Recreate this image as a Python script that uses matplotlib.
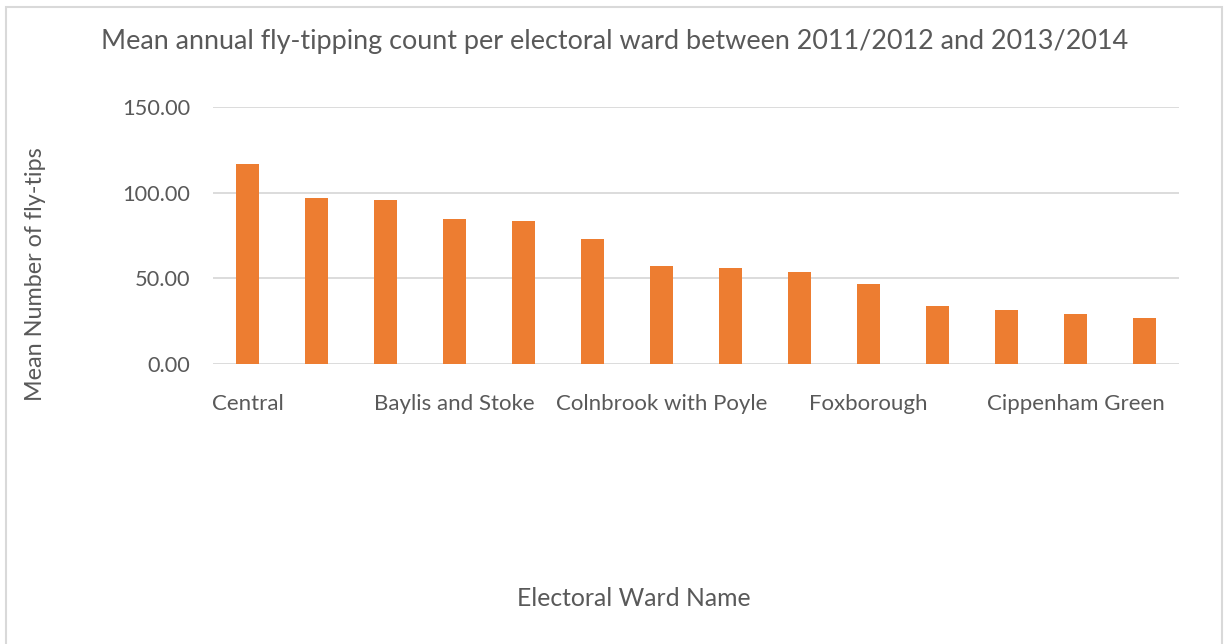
import matplotlib
matplotlib.use("Agg")
import matplotlib.pyplot as plt
from matplotlib.patches import Rectangle

# Data
wards = ["Central", "Chalvey", "Wexham Lea", "Baylis and Stoke", "Britwell",
         "Farnham", "Colnbrook with Poyle", "Kedermister", "Langley St Mary's",
         "Foxborough", "Haymill", "Upton", "Cippenham Green", "Cippenham Meadows"]
mean_flytips = [116.9, 97.0, 95.8, 84.7, 83.5, 72.9, 57.2, 56.0, 53.7,
                46.6, 33.8, 31.4, 29.1, 26.8]
shown_label_idx = [0, 3, 6, 9, 12]
yticks = [0, 50, 100, 150]

FONT = "Lato"
TXT = "#595959"

fig = plt.figure(figsize=(12.3, 6.44), dpi=100)
fig.patch.set_facecolor("white")
ax = fig.add_axes([213/1230, 280.3/644, 966/1230, 256.4/644])

x = list(range(len(wards)))
ax.bar(x, mean_flytips, width=0.32, color="#ED7D31", zorder=3)
ax.set_xlim(-0.5, len(wards) - 0.5)
ax.set_ylim(0, 150)
ax.set_yticks(yticks)
ax.set_yticklabels([f"{v:.2f}" for v in yticks], fontfamily=FONT, fontsize=15.7, color=TXT)
ax.set_xticks([x[i] for i in shown_label_idx])
ax.set_xticklabels([wards[i] for i in shown_label_idx], fontfamily=FONT, fontsize=16, color=TXT)
ax.tick_params(axis="both", length=0)
ax.tick_params(axis="y", pad=16.5)
ax.tick_params(axis="x", pad=21.5)
ax.grid(axis="y", color="#d9d9d9", linewidth=1.3, zorder=0)
for s in ax.spines.values():
    s.set_visible(False)

fig.text(615/1230, 1 - 41/644, "Mean annual fly-tipping count per electoral ward between 2011/2012 and 2013/2014",
         ha="center", va="center", fontfamily=FONT, fontsize=19.45, color=TXT)
fig.text(36/1230, 1 - 274/644, "Mean Number of fly-tips", rotation=90, ha="center", va="center",
         fontfamily=FONT, fontsize=16.8, color=TXT)
fig.text(634/1230, 1 - 599/644, "Electoral Ward Name", ha="center", va="center",
         fontfamily=FONT, fontsize=17.8, color=TXT)

fig.patches.append(Rectangle((6/1230, -0.01), 1216/1230, 1 - 7/644 + 0.01, transform=fig.transFigure,
                             fill=False, edgecolor="#d9d9d9", linewidth=1.5))

fig.savefig("out.png", dpi=100, facecolor="white")
